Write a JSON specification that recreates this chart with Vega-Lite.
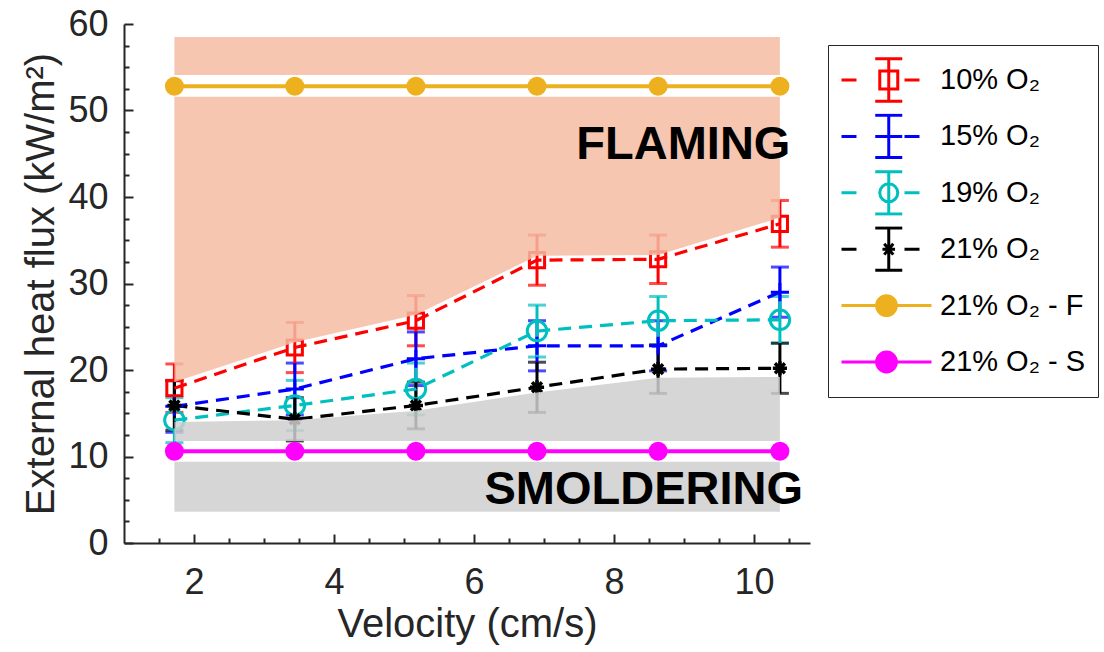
{
  "$schema": "https://vega.github.io/schema/vega-lite/v6.json",
  "width": 686,
  "height": 519,
  "autosize": {"type": "none"},
  "padding": {"left": 124, "top": 24, "right": 294, "bottom": 109},
  "background": "white",
  "config": {
    "view": {"stroke": null},
    "font": "Liberation Sans",
    "axis": {
      "grid": false,
      "labelFont": "Liberation Sans",
      "titleFont": "Liberation Sans",
      "labelColor": "#262626",
      "titleColor": "#262626",
      "domainColor": "#262626",
      "tickColor": "#262626",
      "domainWidth": 2,
      "tickWidth": 2,
      "titleFontWeight": "normal"
    }
  },
  "datasets": {
    "measurements": [
      {"series": "10% O₂", "velocity": 1.72, "flux": 17.9, "err": 2.8},
      {"series": "10% O₂", "velocity": 3.44, "flux": 22.6, "err": 2.9},
      {"series": "10% O₂", "velocity": 5.17, "flux": 25.7, "err": 2.9},
      {"series": "10% O₂", "velocity": 6.9, "flux": 32.7, "err": 2.9},
      {"series": "10% O₂", "velocity": 8.63, "flux": 32.8, "err": 2.8},
      {"series": "10% O₂", "velocity": 10.37, "flux": 36.9, "err": 2.7},
      {"series": "15% O₂", "velocity": 1.72, "flux": 15.8, "err": 3.0},
      {"series": "15% O₂", "velocity": 3.44, "flux": 17.8, "err": 3.0},
      {"series": "15% O₂", "velocity": 5.17, "flux": 21.3, "err": 3.1},
      {"series": "15% O₂", "velocity": 6.9, "flux": 22.8, "err": 2.9},
      {"series": "15% O₂", "velocity": 8.63, "flux": 22.8, "err": 2.9},
      {"series": "15% O₂", "velocity": 10.37, "flux": 29.0, "err": 2.9},
      {"series": "19% O₂", "velocity": 1.72, "flux": 14.2, "err": 2.6},
      {"series": "19% O₂", "velocity": 3.44, "flux": 15.9, "err": 2.9},
      {"series": "19% O₂", "velocity": 5.17, "flux": 17.8, "err": 3.0},
      {"series": "19% O₂", "velocity": 6.9, "flux": 24.5, "err": 3.0},
      {"series": "19% O₂", "velocity": 8.63, "flux": 25.7, "err": 2.8},
      {"series": "19% O₂", "velocity": 10.37, "flux": 25.8, "err": 2.7},
      {"series": "21% O₂", "velocity": 1.72, "flux": 15.9, "err": 2.85},
      {"series": "21% O₂", "velocity": 3.44, "flux": 14.3, "err": 2.5},
      {"series": "21% O₂", "velocity": 5.17, "flux": 15.9, "err": 2.7},
      {"series": "21% O₂", "velocity": 6.9, "flux": 18.0, "err": 2.9},
      {"series": "21% O₂", "velocity": 8.63, "flux": 20.1, "err": 2.8},
      {"series": "21% O₂", "velocity": 10.37, "flux": 20.2, "err": 2.9}
    ],
    "references": [
      {"series": "21% O₂ - F", "velocity": 1.72, "flux": 52.8},
      {"series": "21% O₂ - F", "velocity": 3.44, "flux": 52.8},
      {"series": "21% O₂ - F", "velocity": 5.17, "flux": 52.8},
      {"series": "21% O₂ - F", "velocity": 6.9, "flux": 52.8},
      {"series": "21% O₂ - F", "velocity": 8.63, "flux": 52.8},
      {"series": "21% O₂ - F", "velocity": 10.37, "flux": 52.8},
      {"series": "21% O₂ - S", "velocity": 1.72, "flux": 10.6},
      {"series": "21% O₂ - S", "velocity": 3.44, "flux": 10.6},
      {"series": "21% O₂ - S", "velocity": 5.17, "flux": 10.6},
      {"series": "21% O₂ - S", "velocity": 6.9, "flux": 10.6},
      {"series": "21% O₂ - S", "velocity": 8.63, "flux": 10.6},
      {"series": "21% O₂ - S", "velocity": 10.37, "flux": 10.6}
    ],
    "boundaries": [
      {"velocity": 1.72, "flame_low": 18.6, "smolder_high": 14.0},
      {"velocity": 3.44, "flame_low": 23.2, "smolder_high": 14.2},
      {"velocity": 5.17, "flame_low": 26.4, "smolder_high": 15.3},
      {"velocity": 6.9, "flame_low": 33.2, "smolder_high": 17.4},
      {"velocity": 8.63, "flame_low": 33.3, "smolder_high": 19.1},
      {"velocity": 10.37, "flame_low": 37.6, "smolder_high": 19.2}
    ],
    "bands": [
      {"region": "flaming", "v0": 1.72, "v1": 10.37, "lo": 54.1, "hi": 58.5},
      {"region": "smoldering", "v0": 1.72, "v1": 10.37, "lo": 3.6, "hi": 9.4}
    ],
    "regionLabels": [
      {"text": "FLAMING", "velocity": 10.52, "flux": 46.0},
      {"text": "SMOLDERING", "velocity": 10.7, "flux": 6.1}
    ]
  },
  "layer": [
    {
      "data": {"name": "measurements"},
      "mark": {"type": "errorbar", "thickness": 3, "ticks": {"size": 18, "thickness": 3}},
      "encoding": {
        "x": {"field": "velocity", "type": "quantitative", "scale": {"domain": [1, 10.8], "nice": false}, "axis": null},
        "y": {"field": "flux", "type": "quantitative", "scale": {"domain": [0, 60], "nice": false}, "axis": null},
        "yError": {"field": "err"},
        "color": {"field": "series", "type": "nominal", "legend": null,
          "scale": {"domain": ["21% O₂ - F", "21% O₂ - S", "10% O₂", "15% O₂", "19% O₂", "21% O₂"],
                    "range": ["#edb120", "#ff00ff", "#ff0000", "#0000ff", "#00bfbf", "#000000"]}}
      }
    },
    {
      "data": {"name": "measurements"},
      "mark": {"type": "line", "strokeWidth": 3.2, "strokeDash": [13, 8]},
      "encoding": {
        "x": {"field": "velocity", "type": "quantitative", "axis": null},
        "y": {"field": "flux", "type": "quantitative", "axis": null},
        "color": {"field": "series", "type": "nominal", "legend": null}
      }
    },
    {
      "data": {"name": "measurements"},
      "transform": [{"filter": "datum.series === '10% O₂'"}],
      "mark": {"type": "point", "shape": "square", "size": 230, "strokeWidth": 3, "filled": false, "opacity": 1},
      "encoding": {
        "x": {"field": "velocity", "type": "quantitative", "axis": null},
        "y": {"field": "flux", "type": "quantitative", "axis": null},
        "color": {"field": "series", "type": "nominal", "legend": null}
      }
    },
    {
      "data": {"name": "measurements"},
      "transform": [{"filter": "datum.series === '15% O₂'"}],
      "mark": {"type": "point", "shape": "M-1,0H1M0,-1V1", "size": 330, "strokeWidth": 3, "filled": false, "opacity": 1},
      "encoding": {
        "x": {"field": "velocity", "type": "quantitative", "axis": null},
        "y": {"field": "flux", "type": "quantitative", "axis": null},
        "color": {"field": "series", "type": "nominal", "legend": null}
      }
    },
    {
      "data": {"name": "measurements"},
      "transform": [{"filter": "datum.series === '19% O₂'"}],
      "mark": {"type": "point", "shape": "circle", "size": 380, "strokeWidth": 3, "filled": false, "opacity": 1},
      "encoding": {
        "x": {"field": "velocity", "type": "quantitative", "axis": null},
        "y": {"field": "flux", "type": "quantitative", "axis": null},
        "color": {"field": "series", "type": "nominal", "legend": null}
      }
    },
    {
      "data": {"name": "measurements"},
      "transform": [{"filter": "datum.series === '21% O₂'"}],
      "mark": {"type": "point", "shape": "M-1,0H1M0,-1V1M-0.7,-0.7L0.7,0.7M-0.7,0.7L0.7,-0.7", "size": 200, "strokeWidth": 3.5, "filled": false, "opacity": 1},
      "encoding": {
        "x": {"field": "velocity", "type": "quantitative", "axis": null},
        "y": {"field": "flux", "type": "quantitative", "axis": null},
        "color": {"field": "series", "type": "nominal", "legend": null}
      }
    },
    {
      "data": {"name": "references"},
      "mark": {"type": "line", "strokeWidth": 4},
      "encoding": {
        "x": {"field": "velocity", "type": "quantitative",
          "axis": {"orient": "bottom", "values": [2, 4, 6, 8, 10], "title": "Velocity (cm/s)",
                   "tickSize": -9, "labelPadding": 31, "labelFontSize": 36, "titleFontSize": 40, "titlePadding": 4}},
        "y": {"field": "flux", "type": "quantitative",
          "axis": {"orient": "left", "values": [0, 10, 20, 30, 40, 50, 60], "title": "External heat flux (kW/m²)",
                   "tickSize": -9, "labelPadding": 25, "labelFontSize": 36, "titleFontSize": 40, "titlePadding": 6}},
        "color": {"field": "series", "type": "nominal", "legend": null}
      }
    },
    {
      "data": {"name": "references"},
      "mark": {"type": "point", "shape": "circle", "size": 360, "filled": true, "opacity": 1},
      "encoding": {
        "x": {"field": "velocity", "type": "quantitative",
          "axis": {"orient": "bottom", "values": [1.5, 2.5, 3, 3.5, 4.5, 5, 5.5, 6.5, 7, 7.5, 8.5, 9, 9.5, 10.5],
                   "labels": false, "domain": false, "title": null, "tickSize": -5}},
        "y": {"field": "flux", "type": "quantitative",
          "axis": {"orient": "left", "values": [2.5, 5, 7.5, 12.5, 15, 17.5, 22.5, 25, 27.5, 32.5, 35, 37.5, 42.5, 45, 47.5, 52.5, 55, 57.5],
                   "labels": false, "domain": false, "title": null, "tickSize": -5}},
        "color": {"field": "series", "type": "nominal", "legend": null}
      }
    },
    {
      "data": {"name": "bands"},
      "transform": [{"filter": "datum.region === 'flaming'"}],
      "mark": {"type": "rect", "color": "#f5bca3", "opacity": 0.85},
      "encoding": {
        "x": {"field": "v0", "type": "quantitative", "axis": null},
        "x2": {"field": "v1"},
        "y": {"field": "lo", "type": "quantitative", "axis": null},
        "y2": {"field": "hi"}
      }
    },
    {
      "data": {"name": "boundaries"},
      "mark": {"type": "area", "color": "#f5bca3", "opacity": 0.85},
      "encoding": {
        "x": {"field": "velocity", "type": "quantitative", "axis": null},
        "y": {"field": "flame_low", "type": "quantitative", "axis": null},
        "y2": {"datum": 51.6}
      }
    },
    {
      "data": {"name": "bands"},
      "transform": [{"filter": "datum.region === 'smoldering'"}],
      "mark": {"type": "rect", "color": "#cfcfcf", "opacity": 0.85},
      "encoding": {
        "x": {"field": "v0", "type": "quantitative", "axis": null},
        "x2": {"field": "v1"},
        "y": {"field": "lo", "type": "quantitative", "axis": null},
        "y2": {"field": "hi"}
      }
    },
    {
      "data": {"name": "boundaries"},
      "mark": {"type": "area", "color": "#cfcfcf", "opacity": 0.85},
      "encoding": {
        "x": {"field": "velocity", "type": "quantitative", "axis": null},
        "y": {"field": "smolder_high", "type": "quantitative", "axis": null},
        "y2": {"datum": 11.8}
      }
    },
    {
      "data": {"name": "regionLabels"},
      "mark": {"type": "text", "align": "right", "baseline": "middle", "fontSize": 47, "fontWeight": "bold", "font": "Liberation Sans", "color": "#000000"},
      "encoding": {
        "x": {"field": "velocity", "type": "quantitative", "axis": null},
        "y": {"field": "flux", "type": "quantitative", "axis": null},
        "text": {"field": "text"}
      }
    },
    {
      "data": {"name": "references"},
      "mark": {"type": "point", "filled": true, "strokeWidth": 3, "opacity": 1},
      "encoding": {
        "x": {"field": "velocity", "type": "quantitative", "axis": null},
        "y": {"field": "flux", "type": "quantitative", "axis": null},
        "size": {"value": 0},
        "shape": {"field": "series", "type": "nominal",
          "legend": {"title": null, "orient": "none", "legendX": 704, "legendY": 21, "padding": 12,
                     "symbolSize": 8100, "symbolStrokeWidth": 3, "symbolOpacity": 1, "clipHeight": 46, "rowPadding": 10.4,
                     "labelOffset": 7, "labelFont": "Liberation Sans", "labelFontSize": 29, "labelColor": "#000000",
                     "labelLimit": 400, "strokeColor": "#262626", "fillColor": "#ffffff",
                     "encoding": {"symbols": {"update": {"strokeWidth": {"value": 3.5}}},
                                  "legend": {"update": {"strokeWidth": {"value": 2.5}}}}},
          "scale": {"domain": ["10% O₂", "15% O₂", "19% O₂", "21% O₂", "21% O₂ - F", "21% O₂ - S"],
                    "range": [
                      "M-1,0H-0.667M0.4,0H0.733M0.05,-0.47V0.47M-0.25,-0.47H0.35M-0.25,0.47H0.35M-0.15,-0.2H0.25V0.2H-0.15Z",
                      "M-1,0H-0.667M0.4,0H0.733M0.05,-0.47V0.47M-0.25,-0.47H0.35M-0.25,0.47H0.35M-0.25,0H0.35",
                      "M-1,0H-0.667M0.4,0H0.733M0.05,-0.47V0.47M-0.25,-0.47H0.35M-0.25,0.47H0.35M0.25,0A0.2,0.2 0 1,1 -0.15,0A0.2,0.2 0 1,1 0.25,0Z",
                      "M-1,0H-0.667M0.4,0H0.733M0.05,-0.47V0.47M-0.25,-0.47H0.35M-0.25,0.47H0.35M-0.09,0H0.19M-0.05,-0.12L0.15,0.12M-0.05,0.12L0.15,-0.12M0.05,-0.14V0.14",
                      "M-1,0H1M0.22,0A0.22,0.22 0 1,1 -0.22,0A0.22,0.22 0 1,1 0.22,0Z",
                      "M-1,0H1M0.22,0A0.22,0.22 0 1,1 -0.22,0A0.22,0.22 0 1,1 0.22,0Z"
                    ]}},
        "stroke": {"field": "series", "type": "nominal",
          "legend": {"title": null, "orient": "none", "legendX": 704, "legendY": 21, "padding": 12,
                     "symbolSize": 8100, "symbolStrokeWidth": 3, "symbolOpacity": 1, "clipHeight": 46, "rowPadding": 10.4,
                     "labelOffset": 7, "labelFont": "Liberation Sans", "labelFontSize": 29, "labelColor": "#000000",
                     "labelLimit": 400, "strokeColor": "#262626", "fillColor": "#ffffff",
                     "encoding": {"symbols": {"update": {"strokeWidth": {"value": 3.5}}},
                                  "legend": {"update": {"strokeWidth": {"value": 2.5}}}}},
          "scale": {"domain": ["10% O₂", "15% O₂", "19% O₂", "21% O₂", "21% O₂ - F", "21% O₂ - S"],
                    "range": ["#ff0000", "#0000ff", "#00bfbf", "#000000", "#edb120", "#ff00ff"]}},
        "fill": {"field": "series", "type": "nominal",
          "legend": {"title": null, "orient": "none", "legendX": 704, "legendY": 21, "padding": 12,
                     "symbolSize": 8100, "symbolStrokeWidth": 3, "symbolOpacity": 1, "clipHeight": 46, "rowPadding": 10.4,
                     "labelOffset": 7, "labelFont": "Liberation Sans", "labelFontSize": 29, "labelColor": "#000000",
                     "labelLimit": 400, "strokeColor": "#262626", "fillColor": "#ffffff",
                     "encoding": {"symbols": {"update": {"strokeWidth": {"value": 3.5}}},
                                  "legend": {"update": {"strokeWidth": {"value": 2.5}}}}},
          "scale": {"domain": ["10% O₂", "15% O₂", "19% O₂", "21% O₂", "21% O₂ - F", "21% O₂ - S"],
                    "range": ["transparent", "transparent", "transparent", "transparent", "#edb120", "#ff00ff"]}}
      }
    }
  ],
  "resolve": {"axis": {"x": "independent", "y": "independent"}}
}
